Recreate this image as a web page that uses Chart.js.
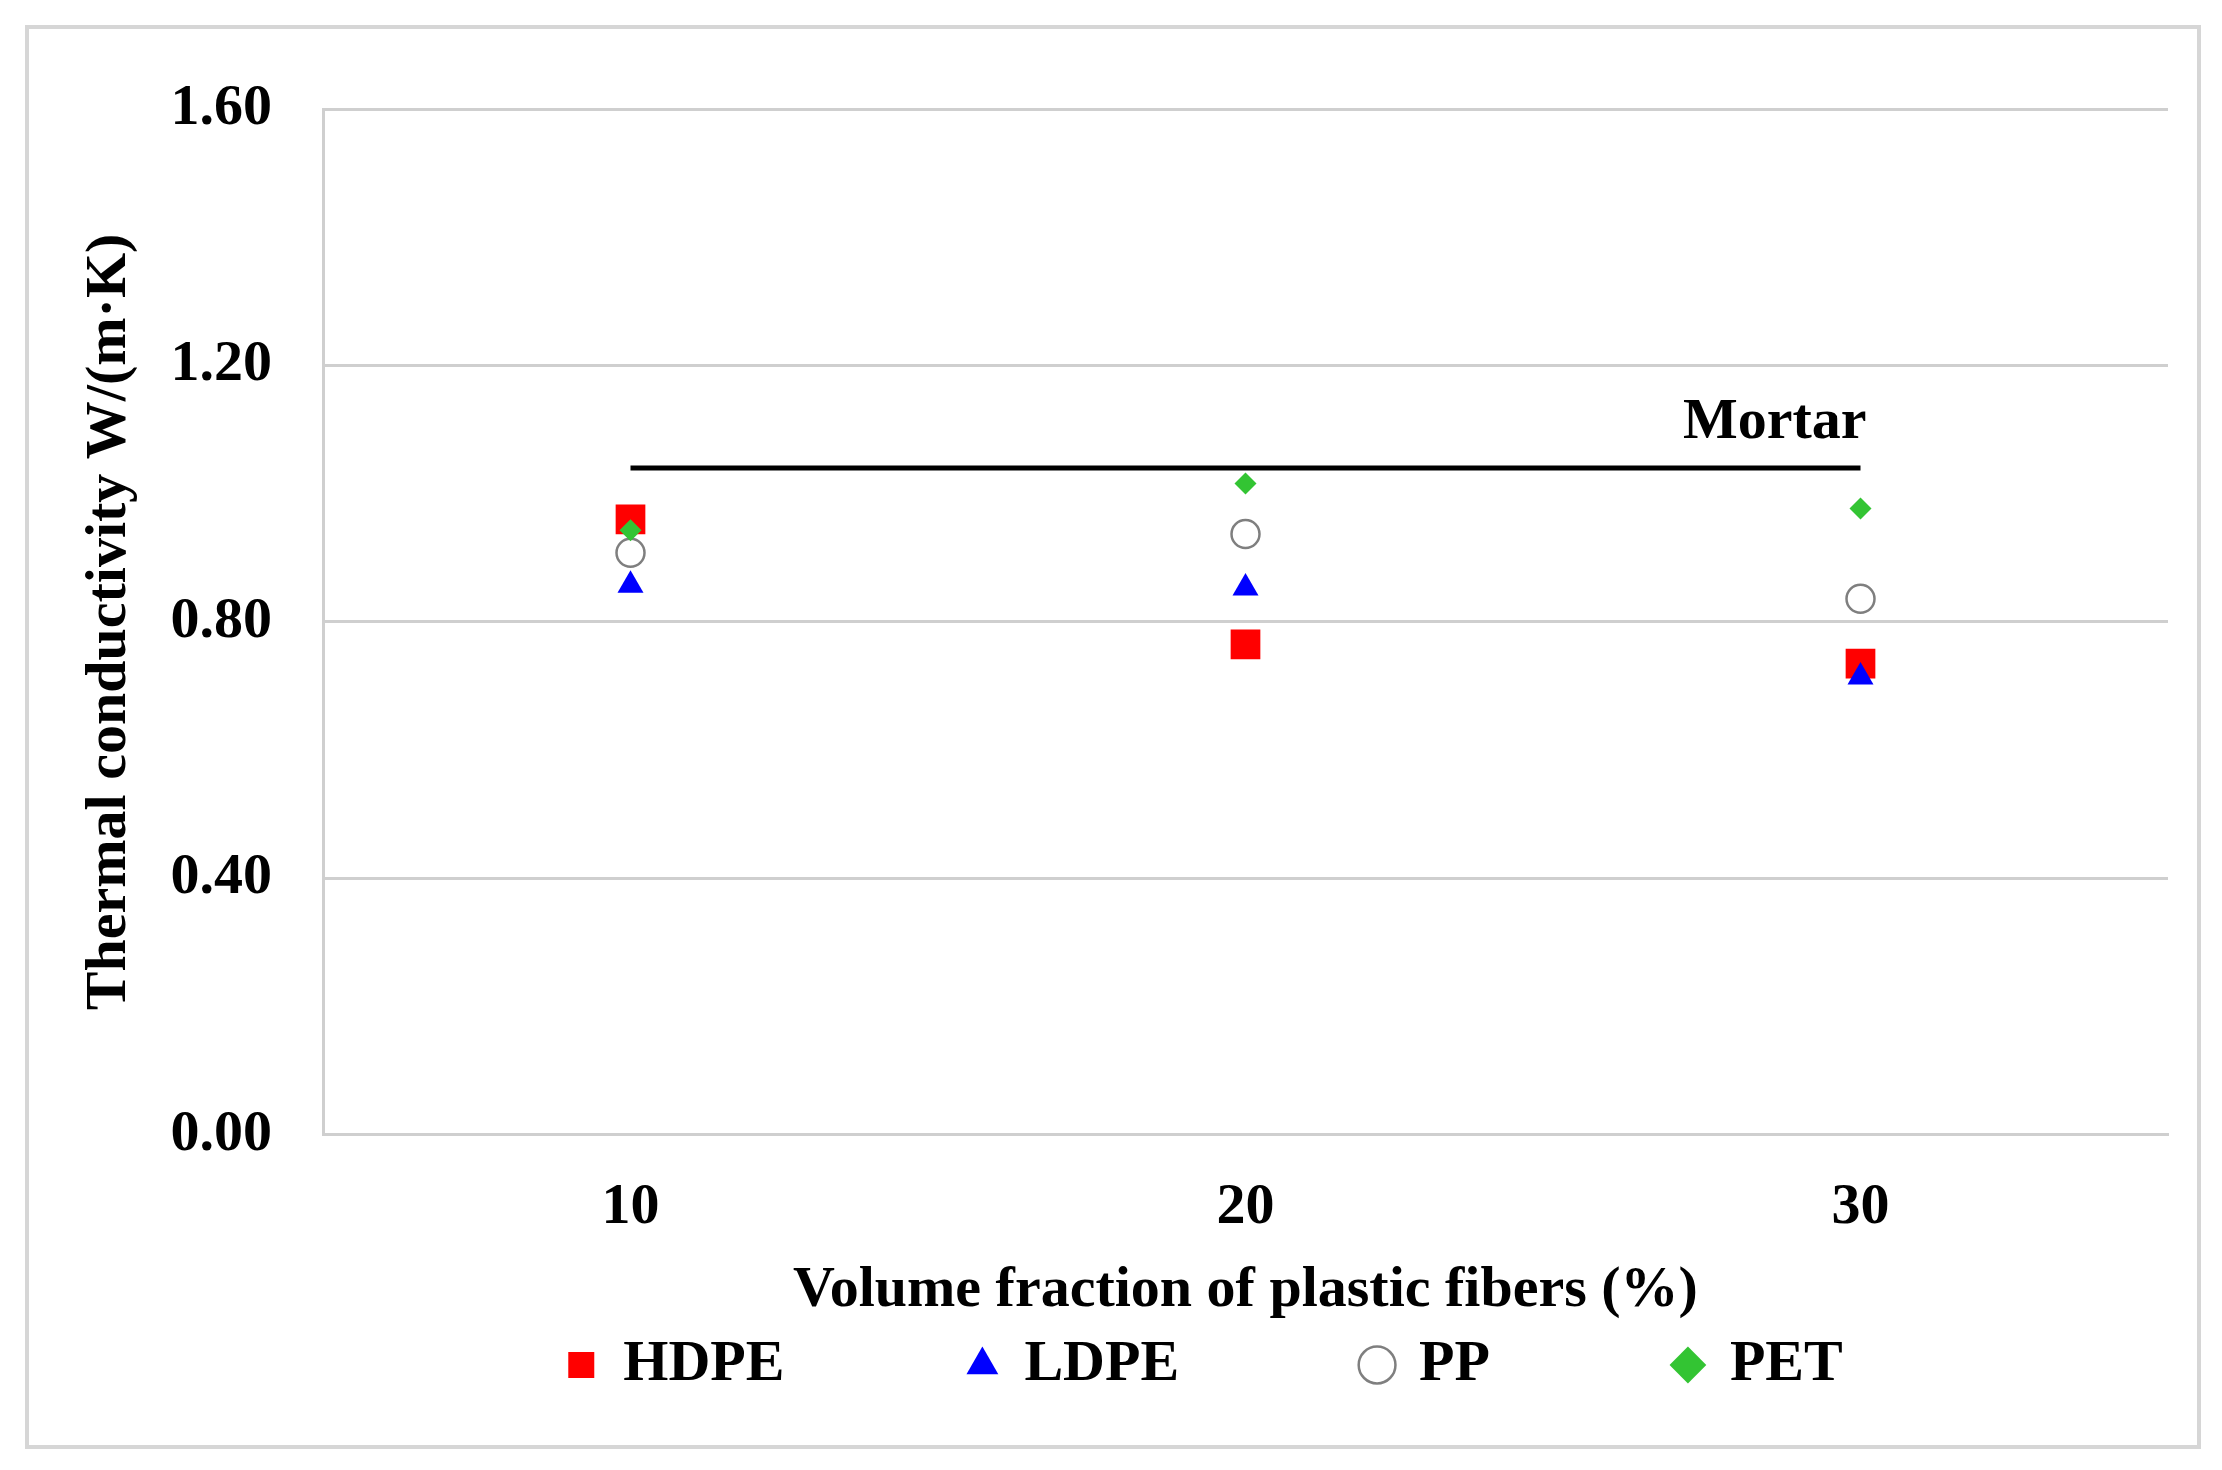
<!DOCTYPE html>
<html>
<head>
<meta charset="utf-8">
<script src="https://cdn.jsdelivr.net/npm/chart.js@4/dist/chart.umd.min.js"></script>
<style>
  body { margin: 0; background: #fff; }
  #frame { position: absolute; left: 25px; top: 25px; width: 2168px; height: 1416px; border: 4px solid #d6d6d6; }
  #wrap { position: absolute; left: 0; top: 0; width: 2222px; height: 1470px; }
</style>
</head>
<body>
<div id="frame"></div>
<div id="wrap"><canvas id="myChart" width="2222" height="1470"></canvas></div>
<script>
// data
const fractions = ['10', '20', '30'];
const hdpe = [0.96, 0.765, 0.735];
const ldpe = [0.857, 0.853, 0.714];
const pp = [0.908, 0.937, 0.836];
const pet = [0.943, 1.016, 0.977];
const mortar = [1.04, 1.04, 1.04];
const mortarLabel = 'Mortar';
const yTicks = [0, 0.4, 0.8, 1.2, 1.6];

const serif = 'Liberation Serif, Times New Roman, serif';
const gridGray = '#cfcfcf';
const legendGap = 185;
const legendShift = 84;

// label over the mortar line, right end
const mortarText = {
  id: 'mortarText',
  afterDatasetsDraw(chart) {
    const x = chart.scales.x.getPixelForValue(2);
    const y = chart.scales.y.getPixelForValue(mortar[2]);
    const ctx = chart.ctx;
    ctx.save();
    ctx.font = 'bold 58px ' + serif;
    ctx.fillStyle = '#000';
    ctx.textAlign = 'right';
    ctx.textBaseline = 'alphabetic';
    ctx.fillText(mortarLabel, x + 6, y - 30);
    ctx.restore();
  }
};

// wide horizontal gaps between legend items without the tall box
const spreadLegend = {
  id: 'spreadLegend',
  afterInit(chart) {
    const lg = chart.legend;
    const extra = legendGap - 10;
    const fit = lg.fit.bind(lg);
    const draw = lg._draw.bind(lg);
    lg.fit = function () { fit(); this.height -= extra; };
    lg._draw = function () {
      this.top -= extra; this.left += legendShift; this.right += legendShift;
      draw();
      this.top += extra; this.left -= legendShift; this.right -= legendShift;
    };
  }
};

function pts(label, values, style, fill, border, bw, radius, order) {
  return {
    label: label,
    data: values,
    showLine: false,
    pointStyle: style,
    pointRadius: radius,
    pointHoverRadius: radius,
    pointBackgroundColor: fill,
    pointBorderColor: border,
    pointBorderWidth: bw,
    backgroundColor: fill,
    borderColor: border,
    order: order
  };
}

const config = {
  type: 'line',
  data: {
    labels: fractions,
    datasets: [
      pts('HDPE', hdpe, 'rect', '#ff0000', '#ff0000', 0, 21, 4),
      pts('LDPE', ldpe, 'triangle', '#0000ff', '#0000ff', 0, 15, 2),
      pts('PP', pp, 'circle', '#ffffff', '#7f7f7f', 2.5, 14, 3),
      pts('PET', pet, 'rectRot', '#33c433', '#33c433', 0, 11, 1),
      {
        label: 'Mortar',
        data: mortar,
        borderColor: '#000',
        borderWidth: 5,
        pointRadius: 0,
        fill: false,
        order: 5
      }
    ]
  },
  options: {
    responsive: false,
    devicePixelRatio: 1,
    animation: false,
    layout: { padding: { left: 75, right: 54, top: 109, bottom: 66 } },
    plugins: {
      tooltip: { enabled: false },
      legend: {
        position: 'bottom',
        labels: {
          filter: item => item.datasetIndex < 4,
          sort: (a, b) => a.datasetIndex - b.datasetIndex,
          usePointStyle: true,
          boxWidth: 26,
          boxHeight: 26,
          padding: legendGap,
          color: '#000',
          font: { family: serif, size: 58, weight: 'bold' }
        }
      }
    },
    scales: {
      x: {
        offset: true,
        afterFit: s => { s.height -= 39; },
        grid: { display: false, drawTicks: false },
        border: { display: true, color: gridGray, width: 3 },
        ticks: { padding: 38, color: '#000', font: { family: serif, size: 58, weight: 'bold' } },
        title: {
          display: true,
          text: 'Volume fraction of plastic fibers (%)',
          color: '#000',
          padding: { top: 15, bottom: 0 },
          font: { family: serif, size: 58, weight: 'bold' }
        }
      },
      y: {
        min: 0,
        max: 1.6,
        afterFit: s => { s.width = 248; },
        afterBuildTicks: s => { s.ticks = yTicks.map(v => ({ value: v })); },
        grid: { color: gridGray, lineWidth: 3, drawTicks: false },
        border: { display: true, color: gridGray, width: 3 },
        ticks: {
          padding: 51,
          color: '#000',
          font: { family: serif, size: 58, weight: 'bold' },
          callback: v => Number(v).toFixed(2)
        },
        title: {
          display: true,
          text: 'Thermal conductivity W/(m·K)',
          color: '#000',
          padding: { top: 0, bottom: 0 },
          font: { family: serif, size: 58, weight: 'bold' }
        }
      }
    }
  },
  plugins: [mortarText, spreadLegend]
};

const myChart = new Chart(document.getElementById('myChart'), config);
</script>
</body>
</html>
